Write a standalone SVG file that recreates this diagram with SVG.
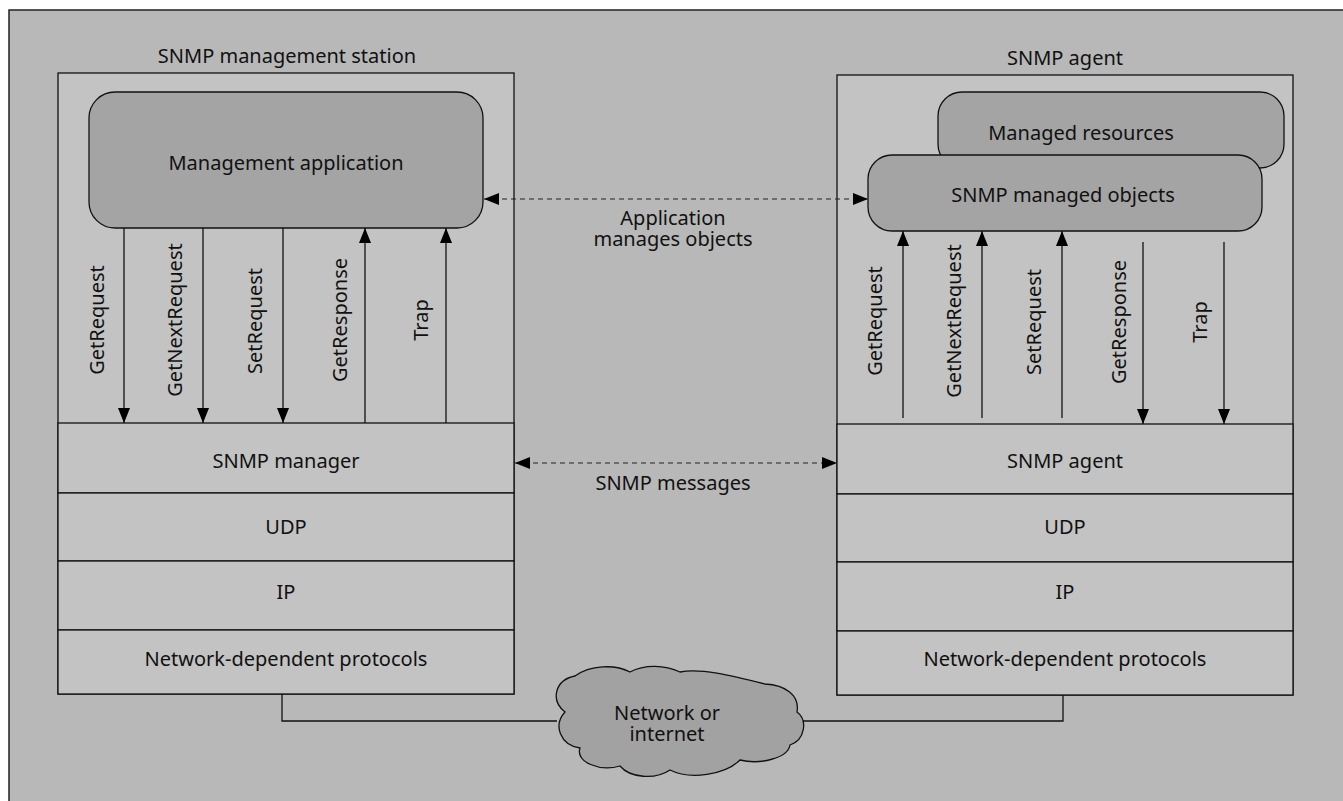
<svg xmlns="http://www.w3.org/2000/svg" width="1343" height="801" viewBox="0 0 1343 801">
<defs>
<style>
text{font-family:"Noto Sans","Open Sans","Liberation Sans",sans-serif;font-size:20px;fill:#111;text-anchor:middle;dominant-baseline:central}
.box{fill:#c3c3c3;stroke:#111;stroke-width:1.3}
.round{fill:#a4a4a4;stroke:#111;stroke-width:1.3}
.ln{stroke:#111;stroke-width:1.3;fill:none}
.dash{stroke:#222;stroke-width:1.2;fill:none;stroke-dasharray:5 4}
</style>
<marker id="ah" viewBox="0 0 15 12" refX="15" refY="6" markerWidth="15" markerHeight="12" markerUnits="userSpaceOnUse" orient="auto-start-reverse">
<path d="M0,0 L15,6 L0,12 Z" fill="#000"/>
</marker>
</defs>
<rect x="0" y="0" width="1343" height="801" fill="#fff"/>
<rect x="9" y="10" width="1340" height="800" fill="#b8b8b8" stroke="#222" stroke-width="1.5"/>

<g id="station">
<text x="287" y="55">SNMP management station</text>
<rect class="box" x="58" y="73" width="456" height="621"/>
</g>
<g id="mgmt-app">
<rect class="round" x="89" y="92" width="394" height="136" rx="26"/>
<text x="286" y="162">Management application</text>
</g>
<g id="snmp-manager">
<rect class="box" x="58" y="423" width="456" height="70"/>
<text x="286" y="460">SNMP manager</text>
</g>
<g id="udp-left">
<rect class="box" x="58" y="493" width="456" height="68"/>
<text x="286" y="526">UDP</text>
</g>
<g id="ip-left">
<rect class="box" x="58" y="561" width="456" height="69"/>
<text x="286" y="591">IP</text>
</g>
<g id="ndp-left">
<rect class="box" x="58" y="630" width="456" height="64"/>
<text x="286" y="658">Network-dependent protocols</text>
</g>

<g id="agent">
<text x="1065" y="57">SNMP agent</text>
<rect class="box" x="837" y="75" width="456" height="620"/>
</g>
<g id="managed-resources">
<rect class="round" x="938" y="92" width="346" height="76" rx="24"/>
<text x="1081" y="132">Managed resources</text>
</g>
<g id="managed-objects">
<rect class="round" x="868" y="155" width="394" height="76" rx="24"/>
<text x="1063" y="194">SNMP managed objects</text>
</g>
<g id="snmp-agent">
<rect class="box" x="837" y="424" width="456" height="70"/>
<text x="1065" y="460">SNMP agent</text>
</g>
<g id="udp-right">
<rect class="box" x="837" y="494" width="456" height="68"/>
<text x="1065" y="526">UDP</text>
</g>
<g id="ip-right">
<rect class="box" x="837" y="562" width="456" height="69"/>
<text x="1065" y="591">IP</text>
</g>
<g id="ndp-right">
<rect class="box" x="837" y="631" width="456" height="64"/>
<text x="1065" y="658">Network-dependent protocols</text>
</g>

<g id="cloud">
<path fill="#a2a2a2" stroke="#111" stroke-width="1.3" d="M565 712 C550 700,555 680,575 676 C590 665,615 664,630 672 C645 664,665 665,680 672 C700 668,730 675,765 684 C785 685,800 695,797 712 C808 720,805 740,790 745 C788 758,760 765,740 760 C725 775,690 780,670 770 C655 780,630 778,620 766 C600 772,575 762,580 748 C560 745,553 725,565 712 Z"/>
<text x="667" y="712">Network or<tspan x="667" dy="21">internet</tspan></text>
</g>

<g id="connectors">
<line class="ln" x1="124" y1="228" x2="124" y2="423" marker-end="url(#ah)"/>
<line class="ln" x1="203" y1="228" x2="203" y2="423" marker-end="url(#ah)"/>
<line class="ln" x1="283" y1="228" x2="283" y2="423" marker-end="url(#ah)"/>
<line class="ln" x1="365" y1="423" x2="365" y2="228" marker-end="url(#ah)"/>
<line class="ln" x1="446" y1="423" x2="446" y2="228" marker-end="url(#ah)"/>

<line class="ln" x1="903" y1="418" x2="903" y2="231" marker-end="url(#ah)"/>
<line class="ln" x1="982" y1="418" x2="982" y2="231" marker-end="url(#ah)"/>
<line class="ln" x1="1062" y1="418" x2="1062" y2="231" marker-end="url(#ah)"/>
<line class="ln" x1="1143" y1="242" x2="1143" y2="424" marker-end="url(#ah)"/>
<line class="ln" x1="1224" y1="242" x2="1224" y2="424" marker-end="url(#ah)"/>

<line class="dash" x1="484" y1="199" x2="868" y2="199" marker-start="url(#ah)" marker-end="url(#ah)"/>
<line class="dash" x1="515" y1="463" x2="837" y2="463" marker-start="url(#ah)" marker-end="url(#ah)"/>

<polyline class="ln" points="282,694 282,721 557,721"/>
<polyline class="ln" points="803,721 1063,721 1063,695"/>

<text transform="translate(96,320) rotate(-90)">GetRequest</text>
<text transform="translate(174,320) rotate(-90)">GetNextRequest</text>
<text transform="translate(254,321) rotate(-90)">SetRequest</text>
<text transform="translate(339,320) rotate(-90)">GetResponse</text>
<text transform="translate(420,320) rotate(-90)">Trap</text>

<text transform="translate(874,321) rotate(-90)">GetRequest</text>
<text transform="translate(953,321) rotate(-90)">GetNextRequest</text>
<text transform="translate(1033,322) rotate(-90)">SetRequest</text>
<text transform="translate(1118,322) rotate(-90)">GetResponse</text>
<text transform="translate(1199,322) rotate(-90)">Trap</text>

<text x="673" y="217">Application<tspan x="673" dy="21">manages objects</tspan></text>
<text x="673" y="482">SNMP messages</text>
</g>
</svg>
